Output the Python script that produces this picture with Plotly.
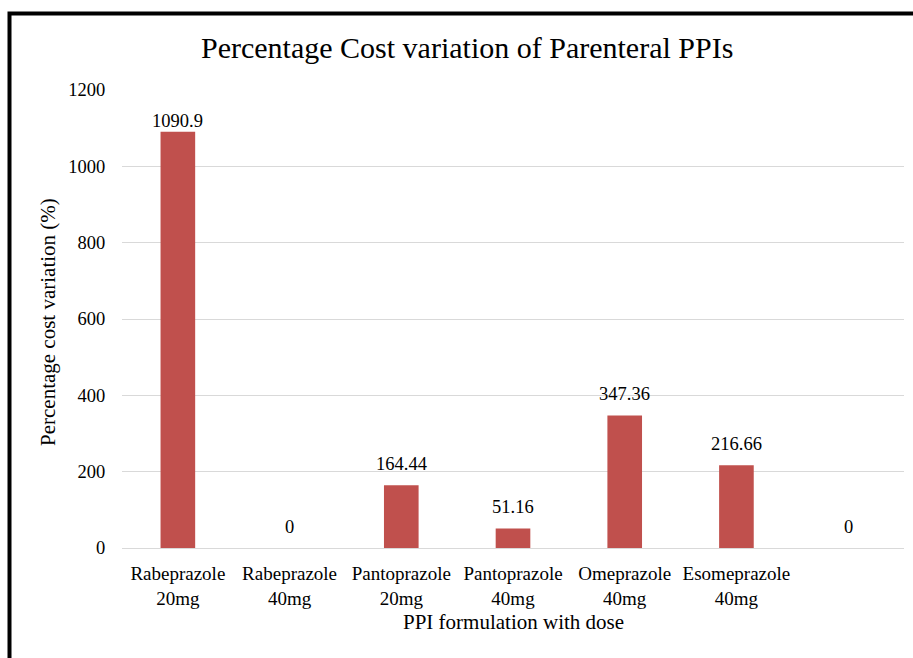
import plotly.graph_objects as go

categories = ["Rabeprazole<br>20mg", "Rabeprazole<br>40mg", "Pantoprazole<br>20mg",
              "Pantoprazole<br>40mg", "Omeprazole<br>40mg", "Esomeprazole<br>40mg", ""]
values = [1090.9, 0, 164.44, 51.16, 347.36, 216.66, 0]
value_labels = ["1090.9", "0", "164.44", "51.16", "347.36", "216.66", "0"]
y_ticks = [0, 200, 400, 600, 800, 1000, 1200]

title_text = "Percentage Cost variation of Parenteral PPIs"
x_title = "PPI formulation with dose"
y_title = "Percentage cost variation (%)"

FONT = "Liberation Serif, Times New Roman, serif"
W, H = 913, 658
L, R, T, B = 122, 9, 90, 110
pw, ph = W - L - R, H - T - B

def px_x(x):
    return (x - L) / pw

def px_y(y):
    return (H - B - y) / ph

x_pos = list(range(len(categories)))

fig = go.Figure(go.Bar(
    x=x_pos, y=values,
    marker=dict(color="#C0504D", line=dict(width=0)),
    width=0.31,
))

label_annotations = []
for xi, v, lab in zip(x_pos, values, value_labels):
    shift = 21 if v < 1000 else 11
    label_annotations.append(dict(
        text=lab, xref="x", yref="y", x=xi, y=v, yshift=shift,
        xanchor="center", yanchor="middle", showarrow=False,
        font=dict(family=FONT, size=18.5, color="#000000")))

fig.update_layout(
    width=W, height=H,
    margin=dict(l=L, r=R, t=T, b=B),
    paper_bgcolor="white", plot_bgcolor="white",
    showlegend=False,
    font=dict(family=FONT, color="#000000"),
    xaxis=dict(
        tickvals=x_pos, ticktext=categories,
        range=[-0.5, len(categories) - 0.5],
        showgrid=False, zeroline=False,
        showline=False,
        ticks="outside", ticklen=8, tickcolor="rgba(0,0,0,0)",
        tickfont=dict(family=FONT, size=19, color="#000000"),
    ),
    yaxis=dict(
        range=[0, 1200], tickvals=y_ticks,
        showgrid=True, gridcolor="#D9D9D9", gridwidth=1,
        zeroline=True, zerolinecolor="#D9D9D9", zerolinewidth=1,
        showline=False,
        ticks="outside", ticklen=12, tickcolor="rgba(0,0,0,0)",
        tickfont=dict(family=FONT, size=18.5, color="#000000"),
    ),
    annotations=label_annotations + [
        dict(text=title_text, xref="paper", yref="paper",
             x=px_x(467), y=px_y(48), xanchor="center", yanchor="middle",
             showarrow=False, font=dict(family=FONT, size=30, color="#000000")),
        dict(text=x_title, xref="paper", yref="paper",
             x=px_x(513), y=px_y(622), xanchor="center", yanchor="middle",
             showarrow=False, font=dict(family=FONT, size=21, color="#000000")),
        dict(text=y_title, xref="paper", yref="paper", textangle=-90,
             x=px_x(48), y=px_y(322), xanchor="center", yanchor="middle",
             showarrow=False, font=dict(family=FONT, size=21, color="#000000")),
    ],
    shapes=[
        dict(type="rect", xref="paper", yref="paper",
             x0=px_x(9.5), y0=px_y(720), x1=px_x(960), y1=px_y(13.5),
             line=dict(color="#000000", width=4), fillcolor="rgba(0,0,0,0)",
             layer="above"),
    ],
)

fig.write_html("out.html")
